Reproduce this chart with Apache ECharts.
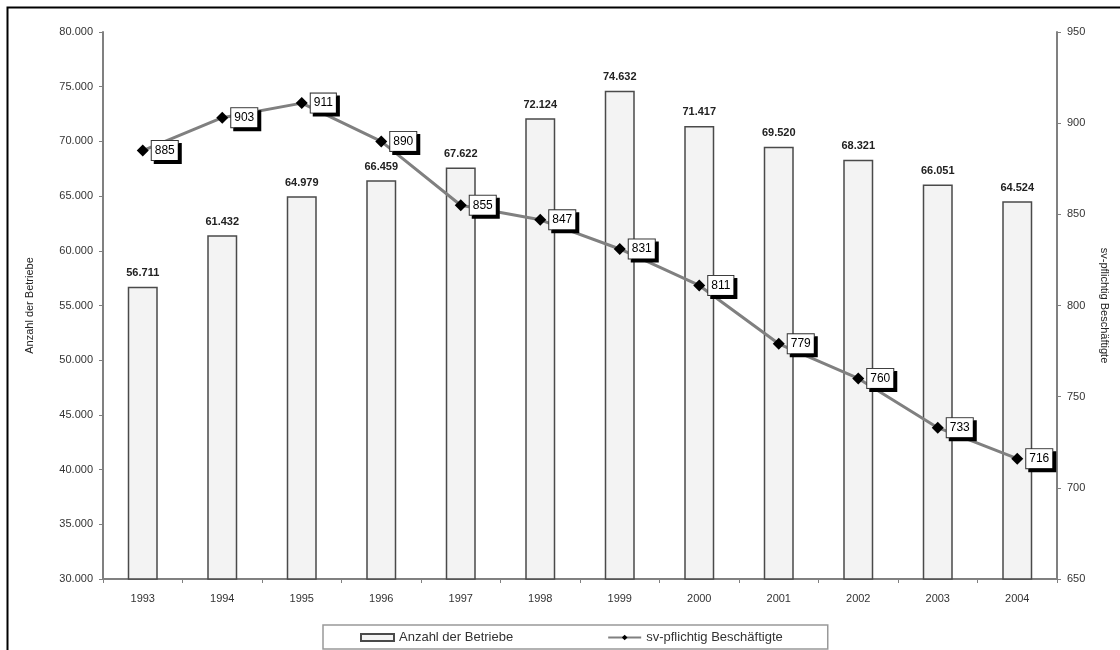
<!DOCTYPE html>
<html><head><meta charset="utf-8">
<script src="https://cdn.jsdelivr.net/npm/echarts@6/dist/echarts.min.js"></script>
<style>html,body{margin:0;padding:0;background:#fff}#c{width:1120px;height:650px}</style>
</head><body><div id="c"></div>
<script>
const years = ['1993','1994','1995','1996','1997','1998','1999','2000','2001','2002','2003','2004'];
const betriebe = [56711,61432,64979,66459,67622,72124,74632,71417,69520,68321,66051,64524];
const beschaeftigte = [885,903,911,890,855,847,831,811,779,760,733,716];
const fmt = v => String(v).replace(/\B(?=(\d{3})+(?!\d))/g, '.');
const chart = echarts.init(document.getElementById('c'));
const F = 'Liberation Sans, Arial, sans-serif';
chart.setOption({
  animation:false,
  textStyle:{fontFamily:F},
  graphic:[{type:'rect',shape:{x:7.5,y:7.5,width:1130,height:660},style:{fill:'none',stroke:'#000',lineWidth:2}}],
  grid:{left:103,right:63,top:32,bottom:71},
  legend:{
    bottom:1,left:323,
    borderColor:'#999',borderWidth:1.5,padding:[6,45,5,37],itemGap:94,
    itemWidth:33,itemHeight:7,
    textStyle:{fontSize:13,color:'#333',fontFamily:F},
    data:[{name:'Anzahl der Betriebe',icon:'rect'},{name:'sv-pflichtig Beschäftigte'}]
  },
  xAxis:{type:'category',data:years,boundaryGap:true,
    axisLine:{lineStyle:{color:'#808080',width:2}},
    axisTick:{show:true,length:4,lineStyle:{color:'#808080'}},
    axisLabel:{color:'#333',fontSize:11,margin:14}},
  yAxis:[
    {type:'value',min:30000,max:80000,interval:5000,
     name:'Anzahl der Betriebe',nameLocation:'middle',nameGap:68,nameRotate:90,
     nameTextStyle:{fontSize:11,color:'#222'},
     axisLine:{show:true,lineStyle:{color:'#808080',width:2}},
     axisTick:{show:true,length:4,lineStyle:{color:'#808080'}},
     splitLine:{show:false},
     axisLabel:{color:'#333',fontSize:11,formatter:v=>fmt(v)+'',margin:10}},
    {type:'value',min:650,max:950,interval:50,position:'right',
     name:'sv-pflichtig Beschäftigte',nameLocation:'middle',nameGap:42,nameRotate:-90,
     nameTextStyle:{fontSize:11,color:'#222'},
     axisLine:{show:true,lineStyle:{color:'#808080',width:2}},
     axisTick:{show:true,length:4,lineStyle:{color:'#808080'}},
     splitLine:{show:false},
     axisLabel:{color:'#333',fontSize:11,margin:10}}
  ],
  series:[
    {name:'Anzahl der Betriebe',type:'bar',data:betriebe,barWidth:30,
     itemStyle:{color:'#f3f3f3',borderColor:'#4a4a4a',borderWidth:1.5},
     label:{show:true,position:'top',distance:8,formatter:p=>fmt(p.value),fontSize:11,fontWeight:'bold',color:'#222'}},
    {name:'sv-pflichtig Beschäftigte',type:'line',yAxisIndex:1,data:beschaeftigte,
     symbol:'diamond',symbolSize:12,
     lineStyle:{color:'#808080',width:3},
     itemStyle:{color:'#000'},
     label:{show:true,position:'right',distance:3,fontSize:12,color:'#000',
       backgroundColor:'#fff',borderColor:'#333',borderWidth:1,padding:[4,3,3,3],
       shadowColor:'#000',shadowOffsetX:3,shadowOffsetY:3,shadowBlur:0}}
  ]
});
</script></body></html>
